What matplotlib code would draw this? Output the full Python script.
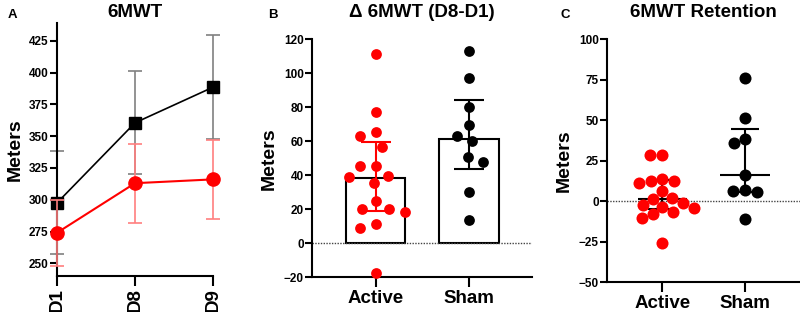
import numpy as np
import matplotlib
matplotlib.use("Agg")
import matplotlib.pyplot as plt

plt.rcParams['font.family'] = ['Liberation Sans', 'DejaVu Sans']
plt.rcParams['font.weight'] = 'bold'

RED = '#ff0000'

# panel A: 6MWT over days (mean +/- SD)
days = ['D1', 'D8', 'D9']
sham_mean = [297.5, 360.5, 388.5]
sham_sd = [40.5, 40.5, 41.0]
active_mean = [274.0, 313.0, 316.0]
active_sd = [26.0, 31.0, 31.0]

# panel B: change D8-D1 per subject
groups = ['Active', 'Sham']
delta_active = [111.2, 77.3, 65.3, 63.1, 56.7, 45.7, 45.7, 39.8, 38.8, 35.5,
                24.7, 20.2, 20.0, 18.4, 11.4, 8.8, -17.3]
delta_sham = [113.1, 97.5, 80.2, 69.4, 63.1, 60.0, 51.0, 48.0, 30.4, 13.5]
delta_bar = [38.6, 61.2]
delta_err_lo = [19.4, 17.7]
delta_err_hi = [20.8, 23.3]

# panel C: retention per subject, median with IQR
ret_active = [28.6, 28.6, 13.8, 12.5, 12.5, 11.5, 6.4, 2.2, 1.4, -1.2, -2.3,
              -3.3, -4.0, -6.8, -8.0, -10.5, -26.0]
ret_sham = [76.1, 51.2, 38.3, 35.8, 16.5, 7.2, 6.6, 5.6, -10.9]
ret_median = [1.5, 16.5]
ret_q1 = [-4.5, 5.6]
ret_q3 = [13.0, 44.9]


def style_axes(ax):
    for s in ['top', 'right']:
        ax.spines[s].set_visible(False)
    for s in ['left', 'bottom']:
        ax.spines[s].set_linewidth(1.5)
    ax.tick_params(axis='y', length=5, width=1.5, pad=1, labelsize=8.5)
    ax.tick_params(axis='x', length=7, width=1.5, pad=2, labelsize=13.5)
    for lab in ax.get_yticklabels() + ax.get_xticklabels():
        lab.set_fontweight('bold')


def swarm(ax, values, center, dist):
    # simple greedy beeswarm in pixel space, returns x positions in data units
    values = np.asarray(values, dtype=float)
    pts = ax.transData.transform(np.column_stack([np.full(len(values), center), values]))
    x0 = ax.transData.transform([[center, 0]])[0, 0]
    x1 = ax.transData.transform([[center + 1, 0]])[0, 0]
    ppu = x1 - x0
    ys = pts[:, 1]
    xs = np.zeros(len(values))
    placed = []
    for i in np.argsort(-values):
        cands = [0.0]
        for px, py in placed:
            dy = ys[i] - py
            if abs(dy) < dist:
                dx = np.sqrt(dist ** 2 - dy ** 2)
                cands += [px + dx, px - dx]
        cands = sorted(cands, key=lambda c: (round(abs(c), 3), c))
        for c in cands:
            ok = all((c - px) ** 2 + (ys[i] - py) ** 2 >= dist ** 2 - 1e-6 for px, py in placed)
            if ok:
                xs[i] = c
                placed.append((c, ys[i]))
                break
    return center + xs / ppu


fig = plt.figure(figsize=(8, 3.12), dpi=100)

# ---------------- A ----------------
axA = fig.add_axes([57 / 800, 1 - 276 / 312, 156 / 800, 253 / 312])
xA = np.arange(len(days))
axA.errorbar(xA, sham_mean, yerr=sham_sd, fmt='none', ecolor='#808080',
             elinewidth=1.2, capsize=5, capthick=1.2, clip_on=False, zorder=2)
axA.plot(xA, sham_mean, color='black', lw=1.2, marker='s', ms=9,
         clip_on=False, zorder=3)
axA.errorbar(xA, active_mean, yerr=active_sd, fmt='none', ecolor='#ff7f7f',
             elinewidth=1.2, capsize=5, capthick=1.2, clip_on=False, zorder=4)
axA.plot(xA, active_mean, color=RED, lw=1.5, marker='o', ms=9.5,
         clip_on=False, zorder=5)
axA.set_xlim(0, 2)
axA.set_ylim(240, 439)
axA.set_yticks(np.arange(250, 426, 25))
axA.set_xticks(xA)
axA.set_xticklabels(days, rotation=90)
axA.set_ylabel('Meters', fontsize=14, fontweight='bold', labelpad=4)
style_axes(axA)

# ---------------- B ----------------
axB = fig.add_axes([312 / 800, 1 - 277.3 / 312, 219.7 / 800, 238 / 312])
axB.set_xlim(-0.68, 1.67)
axB.set_ylim(-20, 120)
xB = np.arange(len(groups))
axB.bar(xB, delta_bar, width=0.64, color='white', edgecolor='black',
        linewidth=1.5, zorder=1)
axB.axhline(0, color='#444444', lw=1, ls=(0, (1, 1)), zorder=2)
for i, (vals, col) in enumerate([(delta_active, RED), (delta_sham, 'black')]):
    axB.scatter(swarm(axB, vals, i, 16), vals, s=60, color=col,
                linewidths=0, zorder=3, clip_on=False)
    axB.errorbar(i, delta_bar[i], yerr=[[delta_err_lo[i]], [delta_err_hi[i]]],
                 fmt='none', ecolor=col, elinewidth=1.5, capsize=11,
                 capthick=1.5, zorder=4)
axB.set_yticks(np.arange(-20, 121, 20))
axB.set_xticks(xB)
axB.set_xticklabels(groups)
axB.set_ylabel('Meters', fontsize=14, fontweight='bold', labelpad=4)
style_axes(axB)

# ---------------- C ----------------
axC = fig.add_axes([607 / 800, 1 - 282.3 / 312, 193 / 800, 243 / 312])
axC.set_xlim(-0.67, 1.66)
axC.set_ylim(-50, 100)
axC.axhline(0, color='#444444', lw=1, ls=(0, (1, 1)), zorder=1)
for i, (vals, col) in enumerate([(ret_active, RED), (ret_sham, 'black')]):
    axC.hlines(ret_median[i], i - 0.3, i + 0.3, color='black', lw=1.5, zorder=2)
    axC.errorbar(i, ret_median[i],
                 yerr=[[ret_median[i] - ret_q1[i]], [ret_q3[i] - ret_median[i]]],
                 fmt='none', ecolor='black', elinewidth=1.5, capsize=10,
                 capthick=1.5, zorder=2)
    axC.scatter(swarm(axC, vals, i, 12), vals, s=75, color=col,
                linewidths=0, zorder=3, clip_on=False)
axC.set_yticks(np.arange(-50, 101, 25))
axC.set_xticks([0, 1])
axC.set_xticklabels(groups)
axC.set_ylabel('Meters', fontsize=14, fontweight='bold', labelpad=4)
style_axes(axC)

# titles and panel letters
fig.text(135 / 800, 1 - 12.7 / 312, '6MWT', ha='center', va='center',
         fontsize=13.5, fontweight='bold')
fig.text(421.8 / 800, 1 - 12.7 / 312, '\u0394 6MWT (D8-D1)', ha='center',
         va='center', fontsize=13.5, fontweight='bold')
fig.text(703.5 / 800, 1 - 12.7 / 312, '6MWT Retention', ha='center',
         va='center', fontsize=13.5, fontweight='bold')
for x, letter in [(12, 'A'), (273, 'B'), (565, 'C')]:
    fig.text(x / 800, 1 - 15 / 312, letter, ha='center', va='center',
             fontsize=9.5, fontweight='bold')

fig.savefig('out.png', dpi=100)
